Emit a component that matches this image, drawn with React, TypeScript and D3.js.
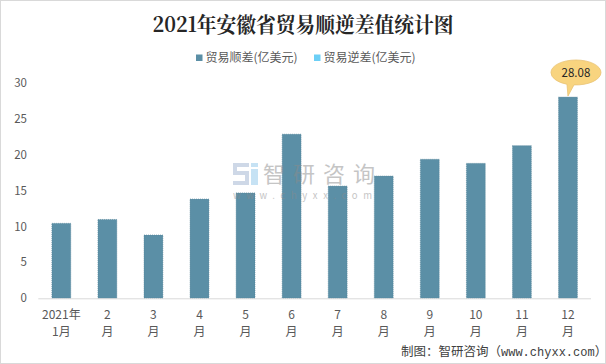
import { useEffect, useRef } from 'react';
import * as d3 from 'd3';

const months = ['1月', '2月', '3月', '4月', '5月', '6月', '7月', '8月', '9月', '10月', '11月', '12月'];
const monthTop = ['2021年', '2', '3', '4', '5', '6', '7', '8', '9', '10', '11', '12'];
const monthBottom = ['1月', '月', '月', '月', '月', '月', '月', '月', '月', '月', '月', '月'];
const surplus = [10.46, 11.0, 8.83, 13.85, 14.7, 22.9, 15.66, 17.06, 19.4, 18.83, 21.3, 28.08];
const yTicks = [0, 5, 10, 15, 20, 25, 30];
const legendNames = ['贸易顺差(亿美元)', '贸易逆差(亿美元)'];

const W = 606;
const H = 364;
const FONT = '"Microsoft YaHei", "Noto Sans CJK SC", "Noto Sans", sans-serif';

const App = () => {
  const svgRef = useRef<SVGSVGElement>(null);

  useEffect(() => {
    const svg = d3.select(svgRef.current);
    svg.selectAll('*').remove();

    svg.append('rect')
      .attr('x', 0.5).attr('y', 0.5)
      .attr('width', W - 1).attr('height', H - 1)
      .attr('fill', '#fff')
      .attr('stroke', '#d9d9d9');

    const x = d3.scaleBand<string>()
      .domain(months)
      .range([38.3, 591])
      .paddingInner(0.59)
      .paddingOuter(0.295);
    const y = d3.scaleLinear().domain([0, 30]).range([298.3, 83.3]);

    // title
    svg.append('text')
      .attr('x', 303).attr('y', 32)
      .attr('text-anchor', 'middle')
      .attr('font-family', '"Noto Serif CJK SC", "Noto Sans CJK SC", serif')
      .attr('font-weight', 'bold')
      .attr('font-size', 21)
      .attr('fill', '#262626')
      .attr('textLength', 301)
      .attr('lengthAdjust', 'spacingAndGlyphs')
      .text('2021年安徽省贸易顺逆差值统计图');

    // legend
    const legendX = [196, 314];
    const legendColors = ['#5b8fa6', '#6ccff6'];
    legendNames.forEach((name, i) => {
      svg.append('rect')
        .attr('x', legendX[i]).attr('y', 54.5)
        .attr('width', 6.5).attr('height', 6.5)
        .attr('fill', legendColors[i]);
      svg.append('text')
        .attr('x', legendX[i] + 9.5).attr('y', 62)
        .attr('font-family', FONT).attr('font-size', 12)
        .attr('fill', '#595959')
        .text(name);
    });

    // y ticks
    svg.append('g')
      .selectAll('text')
      .data(yTicks)
      .join('text')
      .attr('x', 27).attr('y', d => y(d) + 4)
      .attr('text-anchor', 'end')
      .attr('font-family', FONT).attr('font-size', 11.5)
      .attr('fill', '#595959')
      .text(d => d);

    // bars
    svg.append('g')
      .selectAll('rect')
      .data(surplus)
      .join('rect')
      .attr('x', (d, i) => x(months[i])!)
      .attr('y', d => y(d))
      .attr('width', x.bandwidth())
      .attr('height', d => y(0) - y(d))
      .attr('fill', '#5b8fa6')
      .attr('stroke', '#4f7f96')
      .attr('stroke-width', 0.6)
      .attr('stroke-dasharray', '1,1');

    // watermark (drawn over the bars, faint)
    const wm = svg.append('g').attr('opacity', 0.5);
    wm.append('path')
      .attr('d', 'M233,163 h16 v4 h-12 v4 h12 v14 h-16 v-4 h12 v-6 h-12 z')
      .attr('fill', '#9fb2d0');
    wm.append('path')
      .attr('d', 'M251,163 h7 v4 h-7 z M251,169 h7 v16 h-7 z')
      .attr('fill', '#8ec6ea');
    wm.append('text')
      .attr('x', 263).attr('y', 182)
      .attr('font-family', FONT).attr('font-size', 22)
      .attr('fill', '#8c8c8c')
      .attr('textLength', 112)
      .text('智研咨询');
    wm.append('text')
      .attr('x', 233).attr('y', 199)
      .attr('font-family', FONT).attr('font-size', 9.5)
      .attr('fill', '#8c8c8c')
      .attr('textLength', 139)
      .text('www.chyxx.com');

    // axis line
    svg.append('line')
      .attr('x1', 38.3).attr('x2', 591)
      .attr('y1', y(0) + 0.5).attr('y2', y(0) + 0.5)
      .attr('stroke', '#d9d9d9');

    // x labels
    const xl = svg.append('g')
      .attr('font-family', FONT).attr('font-size', 12)
      .attr('fill', '#595959')
      .attr('text-anchor', 'middle');
    months.forEach((m, i) => {
      const cx = x(m)! + x.bandwidth() / 2;
      xl.append('text').attr('x', cx).attr('y', 318.5).text(monthTop[i]);
      xl.append('text').attr('x', cx).attr('y', 336).text(monthBottom[i]);
    });

    // callout for last bar
    const last = surplus.length - 1;
    const bx = x(months[last])! + x.bandwidth() / 2;
    const by = y(surplus[last]);
    const cx = bx + 8;
    const cy = 72.5;
    svg.append('path')
      .attr('d', `M${cx - 25},${cy} A25,12.5 0 1,1 ${cx + 25},${cy} A25,12.5 0 0,1 ${cx - 2},${cy + 12.4} L${bx},${by - 1} L${cx - 9},${cy + 11.8} A25,12.5 0 0,1 ${cx - 25},${cy} Z`)
      .attr('fill', '#f8d47f')
      .attr('stroke', '#e8c375')
      .attr('stroke-width', 0.8);
    svg.append('text')
      .attr('x', cx).attr('y', cy + 4)
      .attr('text-anchor', 'middle')
      .attr('font-family', FONT).attr('font-size', 11.5)
      .attr('fill', '#262626')
      .text(d3.format('.2f')(surplus[last]));

    // source
    const src = svg.append('text')
      .attr('x', 401).attr('y', 356)
      .attr('font-family', FONT).attr('font-size', 12.5)
      .attr('fill', '#404040');
    src.append('tspan').text('制图：智研咨询（');
    src.append('tspan')
      .attr('font-family', '"Liberation Mono", "DejaVu Sans Mono", monospace')
      .attr('font-size', 12)
      .text('www.chyxx.com');
    src.append('tspan').text('）');
  }, []);

  return (
    <svg
      ref={svgRef}
      width={W}
      height={H}
      style={{ position: 'absolute', left: 0, top: 0, display: 'block' }}
    ></svg>
  );
};

export default App;
